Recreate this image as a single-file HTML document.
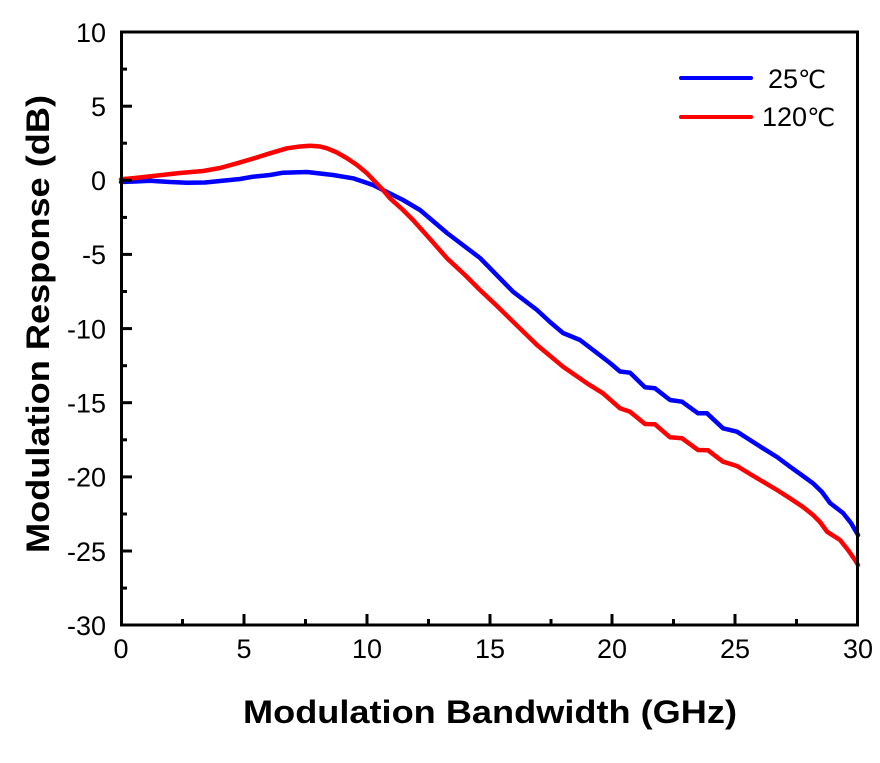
<!DOCTYPE html>
<html><head><meta charset="utf-8"><style>
html,body{margin:0;padding:0;background:#fff;}
svg{display:block;}
</style></head><body>
<svg width="880" height="763" viewBox="0 0 880 763" xmlns="http://www.w3.org/2000/svg">
<rect width="880" height="763" fill="#fff"/>
<g fill="none" stroke-linejoin="round" stroke-linecap="round" stroke-width="4.5">
<polyline stroke="#0000ff" points="121,182 135,181.5 150,180.7 170,182 187,182.7 205,182.5 220,181 240,179 253,176.7 270,175 283,172.7 307,172 333,175 353,178.3 373,185 383,190 403,200 420,210 447,233 480,258 513,291.7 537,310 550,322 563,333 580,340 597,353 610,363 620,371.5 630,372.7 645,387.3 655,388.3 670,400 682,401.7 698,413.3 707,413.3 723,428.3 737,431.7 750,440 763,448.3 777,457 790,466.7 803,476 813,483.3 822,492 830,503 843,513 851,523 858,535"/>
<polyline stroke="#ff0000" points="121,179.3 135,178 153,176 180,173 203,171 220,168 237,163.3 255,158 270,153.3 287,148.3 300,146.5 310,145.7 320,146.5 327,148.3 337,152.5 347,158.3 357,165 367,173.3 383,190 390,198.3 403,210 413,220 430,239 447,258.3 465,275 480,290 497,306 513,321.7 537,345 563,366.7 575,375 587,383.3 603,393.3 620,408.3 630,411.7 645,424 655,424.3 670,437.3 682,438.3 698,450 708,450.3 723,461.7 737,466 750,474 763,481.7 777,490 790,498.3 803,507 813,515 820,522 827,531.7 840,540 848,550 855,560 858,565"/>
</g>
<rect x="121.5" y="32" width="736" height="593" fill="none" stroke="#000" stroke-width="3"/>
<g stroke="#000" stroke-width="3">
<line x1="121" y1="32" x2="132" y2="32"/>
<line x1="121" y1="106.2" x2="132" y2="106.2"/>
<line x1="121" y1="180.3" x2="132" y2="180.3"/>
<line x1="121" y1="254.4" x2="132" y2="254.4"/>
<line x1="121" y1="328.6" x2="132" y2="328.6"/>
<line x1="121" y1="402.7" x2="132" y2="402.7"/>
<line x1="121" y1="476.9" x2="132" y2="476.9"/>
<line x1="121" y1="551" x2="132" y2="551"/>
<line x1="121" y1="69.1" x2="127" y2="69.1"/>
<line x1="121" y1="143.2" x2="127" y2="143.2"/>
<line x1="121" y1="217.4" x2="127" y2="217.4"/>
<line x1="121" y1="291.5" x2="127" y2="291.5"/>
<line x1="121" y1="365.7" x2="127" y2="365.7"/>
<line x1="121" y1="439.8" x2="127" y2="439.8"/>
<line x1="121" y1="514" x2="127" y2="514"/>
<line x1="121" y1="588.1" x2="127" y2="588.1"/>
<line x1="244" y1="625" x2="244" y2="614"/>
<line x1="367" y1="625" x2="367" y2="614"/>
<line x1="490" y1="625" x2="490" y2="614"/>
<line x1="612" y1="625" x2="612" y2="614"/>
<line x1="735" y1="625" x2="735" y2="614"/>
<line x1="182.5" y1="625" x2="182.5" y2="619"/>
<line x1="305.5" y1="625" x2="305.5" y2="619"/>
<line x1="428.5" y1="625" x2="428.5" y2="619"/>
<line x1="551" y1="625" x2="551" y2="619"/>
<line x1="673.5" y1="625" x2="673.5" y2="619"/>
<line x1="796.5" y1="625" x2="796.5" y2="619"/>
</g>
<g font-family="Liberation Sans, DejaVu Sans, sans-serif" font-size="27" fill="#000">
<g text-anchor="end">
<text x="106" y="41.8">10</text>
<text x="106" y="116">5</text>
<text x="106" y="190.1">0</text>
<text x="106" y="264.2">-5</text>
<text x="106" y="338.4">-10</text>
<text x="106" y="412.5">-15</text>
<text x="106" y="486.7">-20</text>
<text x="106" y="560.8">-25</text>
<text x="106" y="634.9">-30</text>
</g>
<g text-anchor="middle">
<text x="121" y="658">0</text>
<text x="244" y="658">5</text>
<text x="367" y="658">10</text>
<text x="490" y="658">15</text>
<text x="612" y="658">20</text>
<text x="735" y="658">25</text>
<text x="858" y="658">30</text>
</g>
</g>
<g font-family="Liberation Sans, DejaVu Sans, sans-serif" font-weight="bold" font-size="32" fill="#000">
<text x="243" y="723" textLength="494" lengthAdjust="spacingAndGlyphs">Modulation Bandwidth (GHz)</text>
<text transform="translate(49,553) rotate(-90)" x="0" y="0" textLength="458" lengthAdjust="spacingAndGlyphs">Modulation Response (dB)</text>
</g>
<g stroke-width="4" stroke-linecap="round">
<line x1="681" y1="78" x2="751" y2="78" stroke="#0000ff"/>
<line x1="681" y1="117" x2="751" y2="117" stroke="#ff0000"/>
</g>
<g font-family="Liberation Sans, DejaVu Sans, sans-serif" font-size="27" fill="#000">
<text x="768" y="88">25<tspan font-family="DejaVu Sans, sans-serif" font-size="25">℃</tspan></text>
<text x="762" y="126">120<tspan font-family="DejaVu Sans, sans-serif" font-size="25">℃</tspan></text>
</g>
</svg>
</body></html>
